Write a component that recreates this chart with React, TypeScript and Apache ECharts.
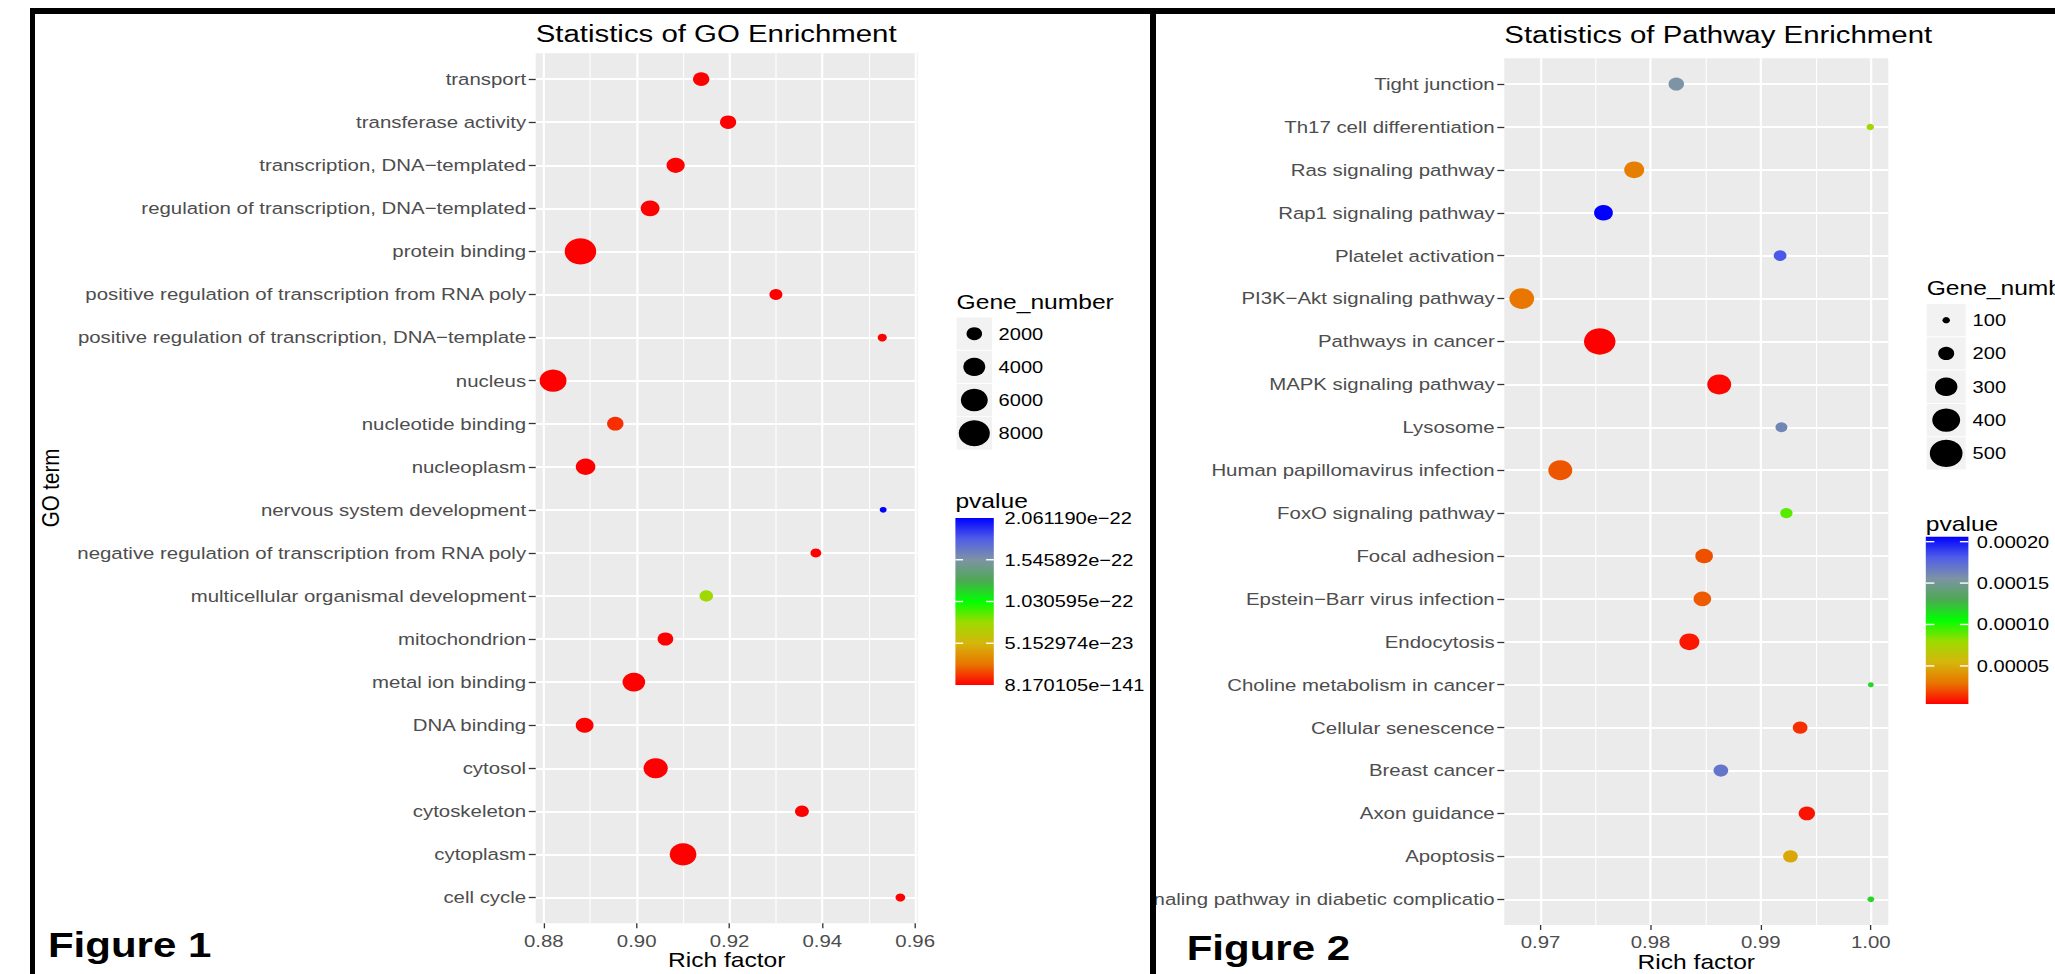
import React, { useEffect, useRef } from "react";
import * as echarts from "echarts";

const FONT = "'Liberation Sans', Arial, Helvetica, sans-serif";
const STRETCH = 1.2; // the reference picture is stretched horizontally
const PAGE_W = 2055;
const PAGE_H = 974;
const AXIS_FS = 17;
const LEGEND_FS = 16.7;

// ---------------- Figure 1 : GO enrichment ----------------
const goTerms = [
  "transport",
  "transferase activity",
  "transcription, DNA−templated",
  "regulation of transcription, DNA−templated",
  "protein binding",
  "positive regulation of transcription from RNA poly",
  "positive regulation of transcription, DNA−template",
  "nucleus",
  "nucleotide binding",
  "nucleoplasm",
  "nervous system development",
  "negative regulation of transcription from RNA poly",
  "multicellular organismal development",
  "mitochondrion",
  "metal ion binding",
  "DNA binding",
  "cytosol",
  "cytoskeleton",
  "cytoplasm",
  "cell cycle",
];
const goRichFactor = [
  0.9139, 0.9197, 0.9084, 0.9029, 0.8879, 0.93, 0.9529, 0.882, 0.8954, 0.889,
  0.9531, 0.9386, 0.915, 0.9062, 0.8994, 0.8888, 0.9041, 0.9356, 0.91, 0.9568,
];
const goPvalue = [
  3.1e-62, 4.5e-48, 2.2e-90, 1.4e-95, 8.170105e-141, 6.3e-40, 1.1e-27, 5.6e-120, 1.0e-23, 3.3e-70,
  2.06119e-22, 7.9e-33, 7.6e-23, 2.7e-55, 4.1e-72, 9.5e-68, 1.8e-88, 5.2e-35, 2.4e-110, 3.9e-30,
];
const goGeneNumber = [
  2200, 2180, 2750, 2970, 8200, 1390, 700, 6000, 2230, 3200,
  400, 960, 1520, 2040, 4250, 2640, 4850, 1600, 5900, 780,
];
const goSizeBreaks = [2000, 4000, 6000, 8000];
const goPvalueBreaks = [2.06119e-22, 1.545892e-22, 1.030595e-22, 5.152974e-23, 8.170105e-141];
const goPvalueLabels = ["2.061190e−22", "1.545892e−22", "1.030595e−22", "5.152974e−23", "8.170105e−141"];
const goXTicks = [0.88, 0.9, 0.92, 0.94, 0.96];

// ---------------- Figure 2 : Pathway enrichment ----------------
const pathways = [
  "Tight junction",
  "Th17 cell differentiation",
  "Ras signaling pathway",
  "Rap1 signaling pathway",
  "Platelet activation",
  "PI3K−Akt signaling pathway",
  "Pathways in cancer",
  "MAPK signaling pathway",
  "Lysosome",
  "Human papillomavirus infection",
  "FoxO signaling pathway",
  "Focal adhesion",
  "Epstein−Barr virus infection",
  "Endocytosis",
  "Choline metabolism in cancer",
  "Cellular senescence",
  "Breast cancer",
  "Axon guidance",
  "Apoptosis",
  "AGE−RAGE signaling pathway in diabetic complicatio",
];
const pathRichFactor = [
  0.98233, 0.99995, 0.97851, 0.97572, 0.99176, 0.9683, 0.97538, 0.98623, 0.99188, 0.9718,
  0.99233, 0.98486, 0.9847, 0.98352, 1.0, 0.99358, 0.98638, 0.99419, 0.9927, 1.0,
];
const pathPvalue = [
  0.0001555, 0.000078, 0.0000323, 0.000206, 0.000182, 0.0000293, 0.000004, 0.000005, 0.0001616, 0.0000222,
  0.0000909, 0.0000212, 0.0000232, 0.0000091, 0.000117, 0.0000141, 0.0001696, 0.000008, 0.0000484, 0.000117,
];
const pathGeneNumber = [
  194, 100, 260, 241, 158, 341, 474, 326, 148, 326,
  153, 223, 223, 260, 85, 183, 183, 206, 183, 93,
];
const pathSizeBreaks = [100, 200, 300, 400, 500];
const pathPvalueBreaks = [0.0002, 0.00015, 0.0001, 0.00005];
const pathPvalueLabels = ["0.00020", "0.00015", "0.00010", "0.00005"];
const pathXTicks = [0.97, 0.98, 0.99, 1.0];

// colour scale: red -> green -> blue (Lab interpolated)
const pvalueColors = ["#FF0000", "#E87600", "#D5B60C", "#9CDB00", "#00FF00", "#4EA854", "#7D93A6", "#505DE7", "#0000FF"];

type Cfg = {
  title: string;
  titleTop: number;
  categories: string[];
  rich: number[];
  pvalue: number[];
  gene: number[];
  sizeFn: (g: number) => number;
  panel: { left: number; right: number; top: number; bottom: number };
  xTicks: number[];
  splitNumber: number;
  xLabelMargin: number;
  xNameGap: number;
  yTitle?: { text: string; x: number; y: number };
  sizeLegend: { x: number; titleY: number; keyTop: number; keyStep: number; keyH: number; keyW: number; labelX: number; breaks: number[] };
  colorLegend: { x: number; titleY: number; barTop: number; barH: number; barW: number; labelX: number; breaks: number[]; labels: string[] };
  figLabel: { text: string; x: number; y: number };
};

function txt(text: string, x: number, y: number, size: number, extra: any = {}) {
  return {
    type: "text",
    x,
    y,
    silent: true,
    rotation: extra.rotation || 0,
    style: {
      text,
      fill: extra.fill || "#000",
      fontSize: size,
      fontFamily: FONT,
      fontWeight: extra.fontWeight || "normal",
      align: extra.align || "left",
      verticalAlign: "middle",
      textAlign: extra.align || "left",
      textVerticalAlign: "middle",
    },
  };
}

function buildOption(cfg: Cfg) {
  const { panel } = cfg;
  const n = cfg.categories.length;
  const unit = (panel.bottom - panel.top) / (n - 1 + 1.2);
  const lo = Math.min(...cfg.rich);
  const hi = Math.max(...cfg.rich);
  const pad = (hi - lo) * 0.05;
  const xMin = lo - pad;
  const xMax = hi + pad;
  const pMin = Math.min(...cfg.pvalue);
  const pMax = Math.max(...cfg.pvalue);
  const gridW = panel.right - panel.left;

  const g: any[] = [];
  // size legend
  const sl = cfg.sizeLegend;
  g.push(txt("Gene_number", sl.x, sl.titleY, 20.5));
  sl.breaks.forEach((b, i) => {
    const top = sl.keyTop + i * sl.keyStep;
    g.push({ type: "rect", silent: true, shape: { x: sl.x, y: top, width: sl.keyW, height: sl.keyH }, style: { fill: "#F2F2F2" } });
    g.push({ type: "circle", silent: true, shape: { cx: sl.x + sl.keyW / 2, cy: top + sl.keyH / 2, r: cfg.sizeFn(b) / 2 }, style: { fill: "#000" } });
    g.push(txt(String(b), sl.labelX, top + sl.keyH / 2, LEGEND_FS));
  });
  // colour legend
  const cl = cfg.colorLegend;
  g.push(txt("pvalue", cl.x, cl.titleY, 20.5));
  const rev = pvalueColors.slice().reverse();
  g.push({
    type: "rect",
    silent: true,
    shape: { x: cl.x, y: cl.barTop, width: cl.barW, height: cl.barH },
    style: {
      fill: new echarts.graphic.LinearGradient(0, 0, 0, 1, rev.map((c, i) => ({ offset: i / (rev.length - 1), color: c }))),
    },
  });
  cl.breaks.forEach((b, i) => {
    const y = cl.barTop + ((pMax - b) / (pMax - pMin)) * cl.barH;
    if (y > cl.barTop + 1.5 && y < cl.barTop + cl.barH - 1.5) {
      g.push({ type: "line", silent: true, shape: { x1: cl.x, y1: y, x2: cl.x + cl.barW / 5, y2: y }, style: { stroke: "#fff", lineWidth: 1.4 } });
      g.push({ type: "line", silent: true, shape: { x1: cl.x + (cl.barW * 4) / 5, y1: y, x2: cl.x + cl.barW, y2: y }, style: { stroke: "#fff", lineWidth: 1.4 } });
    }
    g.push(txt(cl.labels[i], cl.labelX, y, LEGEND_FS));
  });
  if (cfg.yTitle) {
    g.push(txt(cfg.yTitle.text, cfg.yTitle.x, cfg.yTitle.y, 20.5, { rotation: Math.PI / 2, align: "center" }));
  }
  g.push(txt(cfg.figLabel.text, cfg.figLabel.x, cfg.figLabel.y, 35, { fontWeight: "bold" }));

  return {
    animation: false,
    backgroundColor: "transparent",
    textStyle: { fontFamily: FONT },
    title: {
      text: cfg.title,
      left: panel.left,
      top: cfg.titleTop,
      padding: 0,
      textStyle: { fontSize: 24.5, fontWeight: "normal", color: "#000", fontFamily: FONT },
    },
    grid: [
      {
        left: panel.left,
        top: panel.top,
        width: gridW,
        height: panel.bottom - panel.top,
        show: true,
        backgroundColor: "#EBEBEB",
        borderWidth: 0,
        containLabel: false,
        outerBoundsMode: "none",
        z: -1,
      },
      {
        left: panel.left,
        top: panel.top + 0.6 * unit,
        width: gridW,
        height: (n - 1) * unit,
        show: false,
        containLabel: false,
        outerBoundsMode: "none",
      },
    ],
    xAxis: [
      {
        gridIndex: 0,
        type: "value",
        min: xMin,
        max: xMax,
        splitNumber: cfg.splitNumber,
        axisLine: { show: false },
        axisTick: { show: true, length: 5, customValues: cfg.xTicks, lineStyle: { color: "#333333", width: 1.1 } },
        axisLabel: {
          customValues: cfg.xTicks,
          formatter: (v: number) => v.toFixed(2),
          color: "#4D4D4D",
          fontSize: AXIS_FS,
          fontFamily: FONT,
          margin: cfg.xLabelMargin,
        },
        splitLine: { show: true, lineStyle: { color: "#FFFFFF", width: 1.8 } },
        minorTick: { show: false, splitNumber: 2 },
        minorSplitLine: { show: true, lineStyle: { color: "#FFFFFF", width: 0.9 } },
        name: "Rich factor",
        nameLocation: "middle",
        nameGap: cfg.xNameGap,
        nameMoveOverlap: false,
        nameTextStyle: { fontSize: 20.5, color: "#000", fontFamily: FONT },
      },
      { gridIndex: 1, type: "value", min: xMin, max: xMax, show: false },
    ],
    yAxis: [
      { gridIndex: 0, type: "value", min: 0, max: 1, show: false },
      {
        gridIndex: 1,
        type: "category",
        data: cfg.categories,
        inverse: true,
        boundaryGap: false,
        axisLine: { show: false },
        axisTick: { show: true, interval: 0, length: 5.8, lineStyle: { color: "#333333", width: 1.3 } },
        axisLabel: { interval: 0, color: "#4D4D4D", fontSize: AXIS_FS, fontFamily: FONT, margin: 8, hideOverlap: false },
        splitLine: { show: true, interval: 0, lineStyle: { color: "#FFFFFF", width: 2 } },
      },
    ],
    visualMap: {
      type: "continuous",
      show: false,
      dimension: 2,
      seriesIndex: 0,
      min: pMin,
      max: pMax,
      inRange: { color: pvalueColors },
    },
    series: [
      {
        type: "scatter",
        xAxisIndex: 1,
        yAxisIndex: 1,
        clip: false,
        symbol: "circle",
        symbolSize: (v: any[]) => cfg.sizeFn(v[3]),
        data: cfg.categories.map((c, i) => [cfg.rich[i], c, cfg.pvalue[i], cfg.gene[i]]),
        itemStyle: { opacity: 1 },
        z: 3,
      },
    ],
    graphic: { elements: g },
  };
}

const goOption = buildOption({
  title: "Statistics of GO Enrichment",
  titleTop: 21,
  categories: goTerms,
  rich: goRichFactor,
  pvalue: goPvalue,
  gene: goGeneNumber,
  sizeFn: (v) => 0.29 * Math.sqrt(v),
  panel: { left: 417.25, right: 735.6, top: 53.3, bottom: 923.3 },
  xTicks: goXTicks,
  splitNumber: 5,
  xLabelMargin: 9.2,
  xNameGap: 26.5,
  yTitle: { text: "GO term", x: 13.5, y: 488 },
  sizeLegend: { x: 768, titleY: 302, keyTop: 317.5, keyStep: 33.2, keyH: 32.3, keyW: 29.5, labelX: 803, breaks: goSizeBreaks },
  colorLegend: { x: 767, titleY: 501, barTop: 518, barH: 167, barW: 32, labelX: 808, breaks: goPvalueBreaks, labels: goPvalueLabels },
  figLabel: { text: "Figure 1", x: 10.8, y: 945 },
});

const pathOption = buildOption({
  title: "Statistics of Pathway Enrichment",
  titleTop: 22,
  categories: pathways,
  rich: pathRichFactor,
  pvalue: pathPvalue,
  gene: pathGeneNumber,
  sizeFn: (v) => 1.7 * Math.sqrt(v) - 10.7,
  panel: { left: 290.25, right: 610.25, top: 58.3, bottom: 925 },
  xTicks: pathXTicks,
  splitNumber: 4,
  xLabelMargin: 8.5,
  xNameGap: 26.5,
  sizeLegend: { x: 642.25, titleY: 288, keyTop: 304, keyStep: 33.3, keyH: 32.3, keyW: 32.5, labelX: 680.5, breaks: pathSizeBreaks },
  colorLegend: { x: 641.5, titleY: 524, barTop: 536.7, barH: 167.3, barW: 35.5, labelX: 684, breaks: pathPvalueBreaks, labels: pathPvalueLabels },
  figLabel: { text: "Figure 2", x: 25.6, y: 948 },
});

function EChart({ option, left, width }: { option: any; left: number; width: number }) {
  const ref = useRef<HTMLDivElement>(null);
  useEffect(() => {
    if (!ref.current) return;
    const chart = echarts.init(ref.current, undefined, { renderer: "svg" });
    chart.setOption(option);
    return () => chart.dispose();
  }, [option]);
  return (
    <div
      ref={ref}
      style={{
        position: "absolute",
        left,
        top: 0,
        width,
        height: PAGE_H,
        transform: `scaleX(${STRETCH})`,
        transformOrigin: "0 0",
        overflow: "hidden",
      }}
    />
  );
}

export default function App() {
  return (
    <div style={{ position: "fixed", left: 0, top: 0, width: PAGE_W, height: PAGE_H, background: "#fff", overflow: "hidden" }}>
      <EChart option={goOption} left={35} width={929} />
      <EChart option={pathOption} left={1156} width={749} />
      <div style={{ position: "absolute", left: 30, top: 8, width: PAGE_W - 30, height: 6, background: "#000" }} />
      <div style={{ position: "absolute", left: 30, top: 8, width: 5, height: PAGE_H - 8, background: "#000" }} />
      <div style={{ position: "absolute", left: 1150, top: 8, width: 6, height: PAGE_H - 8, background: "#000" }} />
    </div>
  );
}
